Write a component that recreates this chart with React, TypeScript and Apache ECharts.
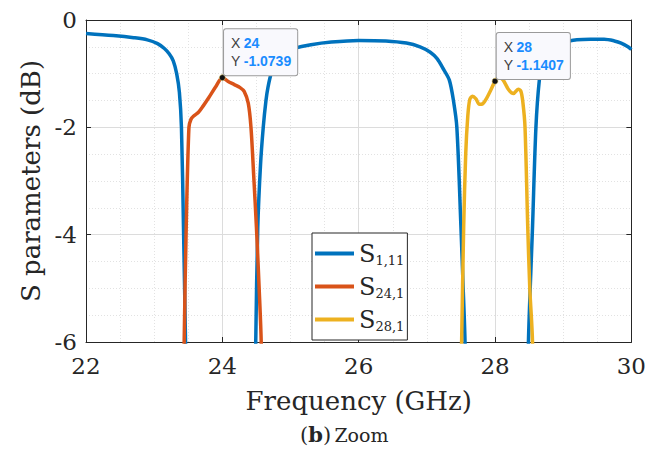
import React, { useEffect, useRef } from "react";
import * as echarts from "echarts";

// S1,11
const freqS111 = [22.0, 22.4, 22.7, 22.9, 23.05, 23.15, 23.22, 23.28, 23.33, 23.37, 23.4, 23.43, 23.46, 23.5, 23.6,
  24.4, 24.46, 24.49, 24.52, 24.56, 24.6, 24.64, 24.67, 24.72, 24.8, 24.9, 25.05, 25.3, 25.6, 26.0, 26.4, 26.7,
  26.9, 27.05, 27.15, 27.25, 27.33, 27.39, 27.44, 27.5, 27.53, 27.56, 27.6, 27.7,
  28.4, 28.45, 28.49, 28.55, 28.6, 28.65, 28.7, 28.78, 28.9, 29.0, 29.2, 29.4, 29.6, 29.75, 29.85, 29.95, 30.0];
const valS111 = [-0.25, -0.29, -0.33, -0.37, -0.44, -0.53, -0.63, -0.76, -1.0, -1.35, -2.0, -3.86, -6.0, -9, -12,
  -12, -9, -6.0, -3.86, -2.7, -2.0, -1.5, -1.25, -0.98, -0.74, -0.61, -0.53, -0.46, -0.41, -0.38, -0.39, -0.43,
  -0.5, -0.6, -0.72, -0.93, -1.12, -1.5, -2.0, -3.86, -4.9, -6.0, -9, -12,
  -12, -9, -6.0, -3.86, -2.0, -1.12, -0.78, -0.53, -0.43, -0.41, -0.37, -0.36, -0.36, -0.39, -0.43, -0.5, -0.55];

// S24,1
const freqS241 = [23.4, 23.44, 23.47, 23.51, 23.54, 23.58, 23.65, 23.72, 23.8, 23.9, 24.0, 24.08, 24.17, 24.26,
  24.32, 24.38, 24.42, 24.46, 24.5, 24.54, 24.57, 24.62];
const valS241 = [-10, -6.0, -3.86, -2.0, -1.85, -1.79, -1.72, -1.6, -1.45, -1.25, -1.0739, -1.14, -1.2, -1.26,
  -1.33, -1.55, -2.0, -2.9, -3.86, -5.0, -6.0, -10];

// S28,1
const freqS281 = [27.45, 27.51, 27.54, 27.57, 27.6, 27.63, 27.67, 27.72, 27.77, 27.82, 27.88, 27.94, 28.0, 28.06,
  28.12, 28.2, 28.27, 28.34, 28.38, 28.41, 28.44, 28.48, 28.51, 28.55, 28.6];
const valS281 = [-10, -6.0, -3.86, -2.5, -1.8, -1.48, -1.42, -1.47, -1.57, -1.56, -1.45, -1.3, -1.1407, -1.06,
  -1.12, -1.3, -1.37, -1.29, -1.33, -1.55, -2.0, -3.86, -5.0, -6.0, -10];

const seriesNames = ["S1,11", "S24,1", "S28,1"];
const seriesSubs = ["1,11", "24,1", "28,1"];
const seriesColors = ["#0072BD", "#D95319", "#EDB120"];

const xTicks = [22, 24, 26, 28, 30];
const yTicks = [0, -2, -4, -6];

const tip1 = [24, -1.0739];
const tip2 = [28, -1.1407];

const SERIF = "'DejaVu Serif', 'Liberation Serif', serif";
const SANS = "'Liberation Sans', Arial, Helvetica, sans-serif";
const TXT = "#262626";

function pairs(xs: number[], ys: number[]) {
  return xs.map((x, i) => [x, ys[i]]);
}

function tipPoint(pt: number[]) {
  return {
    symbol: "circle",
    symbolSize: 6,
    silent: true,
    itemStyle: { color: "#111111", borderColor: "#e8d27a", borderWidth: 0.6 },
    label: {
      show: true,
      position: [5, -45],
      formatter: () => `{k|X} {v|${pt[0]}}\n{k|Y} {v|${pt[1]}}`,
      backgroundColor: "#f9f9fd",
      borderColor: "#9a9a9a",
      borderWidth: 1,
      borderRadius: 2,
      padding: [5, 6, 5, 7],
      rich: {
        k: { fontFamily: SANS, fontSize: 14, color: "#404040", lineHeight: 18 },
        v: { fontFamily: SANS, fontSize: 14, color: "#1a8cff", fontWeight: "bold", lineHeight: 18 },
      },
    },
    data: [{ coord: pt }],
  };
}

export default function App() {
  const ref = useRef<HTMLDivElement>(null);
  useEffect(() => {
    if (!ref.current) return;
    const chart = echarts.init(ref.current, undefined, { renderer: "svg" });
    const baseAxis = {
      type: "value" as const,
      axisLine: { show: true, onZero: false, lineStyle: { color: TXT, width: 1 } },
      axisTick: { show: true, inside: true, length: 5, lineStyle: { color: TXT } },
    };
    const option: any = {
      animation: false,
      backgroundColor: "#ffffff",
      grid: { left: 86, right: 17, top: 20, bottom: 126, containLabel: false },
      legend: {
        orient: "vertical",
        left: 312,
        top: 233,
        data: seriesNames,
        icon: "rect",
        itemWidth: 39,
        itemHeight: 4,
        itemGap: 6,
        padding: [7, 3, 7, 3],
        backgroundColor: "#ffffff",
        borderColor: TXT,
        borderWidth: 1,
        borderRadius: 0,
        formatter: (name: string) => `{s|S}{b|${seriesSubs[seriesNames.indexOf(name)]}}`,
        textStyle: {
          rich: {
            s: { fontFamily: SERIF, fontSize: 24, color: TXT, lineHeight: 24 },
            b: { fontFamily: SERIF, fontSize: 13, color: TXT, lineHeight: 24, padding: [14, 0, 0, 0] },
          },
        },
      },
      xAxis: [
        {
          ...baseAxis,
          position: "bottom",
          min: 22,
          max: 30,
          interval: 2,
          name: "Frequency (GHz)",
          nameLocation: "middle",
          nameGap: 46,
          nameTextStyle: { fontFamily: SERIF, fontSize: 26, color: TXT },
          axisLabel: {
            fontFamily: SERIF,
            fontSize: 23,
            color: TXT,
            margin: 12,
            formatter: (v: number) => (xTicks.includes(v) ? String(v) : ""),
          },
          splitLine: { show: true, lineStyle: { color: "#dcdcdc", width: 1 } },
          minorTick: { show: false, splitNumber: 4 },
          minorSplitLine: { show: true, lineStyle: { color: "#e2e2e2", width: 1, type: [1, 2] } },
        },
        {
          ...baseAxis,
          position: "top",
          min: 22,
          max: 30,
          interval: 2,
          axisLabel: { show: false },
          splitLine: { show: false },
        },
      ],
      yAxis: [
        {
          ...baseAxis,
          position: "left",
          min: -6,
          max: 0,
          interval: 2,
          name: "S parameters (dB)",
          nameLocation: "middle",
          nameGap: 41,
          nameRotate: 90,
          nameTextStyle: { fontFamily: SERIF, fontSize: 26, color: TXT },
          axisLabel: {
            fontFamily: SERIF,
            fontSize: 23,
            color: TXT,
            margin: 9,
            formatter: (v: number) => (yTicks.includes(v) ? String(v) : ""),
          },
          splitLine: { show: true, lineStyle: { color: "#dcdcdc", width: 1 } },
          minorTick: { show: false, splitNumber: 4 },
          minorSplitLine: { show: true, lineStyle: { color: "#e2e2e2", width: 1, type: [1, 2] } },
        },
        {
          ...baseAxis,
          position: "right",
          min: -6,
          max: 0,
          interval: 2,
          axisLabel: { show: false },
          splitLine: { show: false },
        },
      ],
      series: [
        {
          name: seriesNames[0],
          type: "line",
          data: pairs(freqS111, valS111),
          showSymbol: false,
          symbol: "none",
          smooth: 0.3,
          clip: true,
          lineStyle: { color: seriesColors[0], width: 3.5 },
          itemStyle: { color: seriesColors[0] },
          z: 2,
        },
        {
          name: seriesNames[1],
          type: "line",
          data: pairs(freqS241, valS241),
          showSymbol: false,
          symbol: "none",
          smooth: 0.3,
          clip: true,
          lineStyle: { color: seriesColors[1], width: 3.5 },
          itemStyle: { color: seriesColors[1] },
          markPoint: tipPoint(tip1),
          z: 3,
        },
        {
          name: seriesNames[2],
          type: "line",
          data: pairs(freqS281, valS281),
          showSymbol: false,
          symbol: "none",
          smooth: 0.3,
          clip: true,
          lineStyle: { color: seriesColors[2], width: 3.5 },
          itemStyle: { color: seriesColors[2] },
          markPoint: tipPoint(tip2),
          z: 4,
        },
      ],
      graphic: [
        {
          type: "text",
          left: 300,
          top: 424,
          style: {
            text: "{p|(}{b|b}{p|)} {z|Zoom}",
            rich: {
              p: { fontFamily: SERIF, fontSize: 21, fill: TXT },
              b: { fontFamily: SERIF, fontSize: 21, fontWeight: "bold", fill: TXT },
              z: { fontFamily: SERIF, fontSize: 19, fill: TXT },
            },
          },
        },
      ],
    };
    chart.setOption(option);
    return () => chart.dispose();
  }, []);
  return <div ref={ref} style={{ width: 649, height: 468, position: "absolute", left: 0, top: 0 }} />;
}
